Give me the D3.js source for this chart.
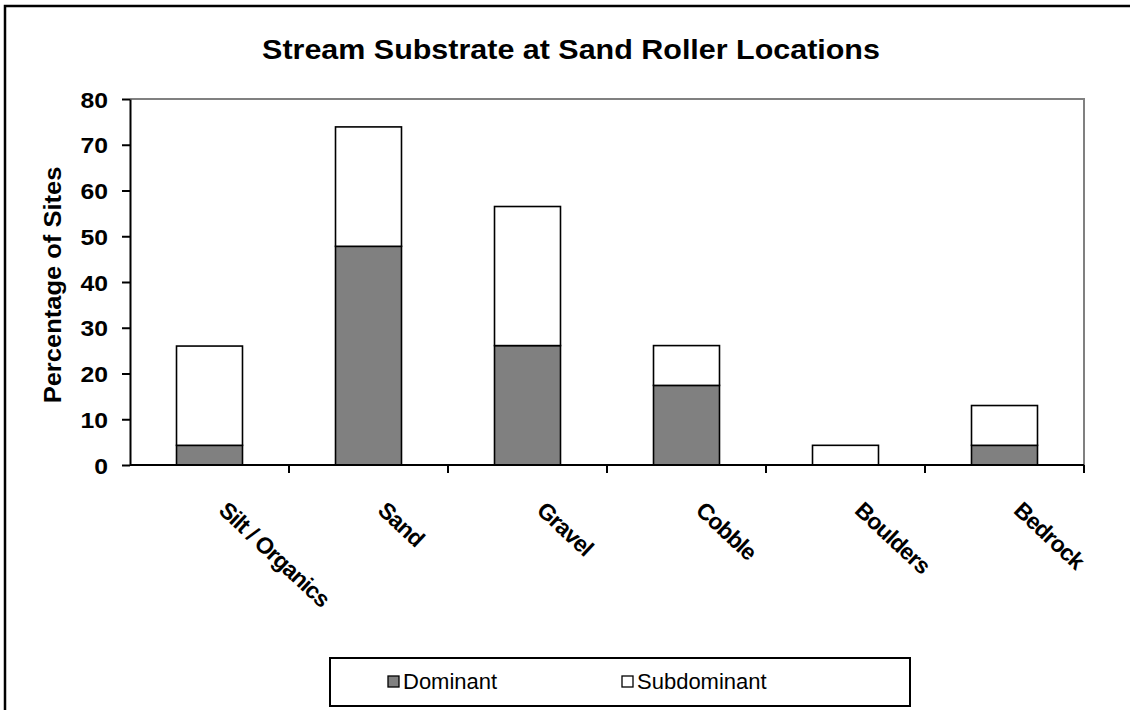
<!DOCTYPE html>
<html>
<head>
<meta charset="utf-8">
<script src="https://cdn.jsdelivr.net/npm/d3@7"></script>
<style>
  body { margin: 0; background: #fff; }
  svg { display: block; font-family: "Liberation Sans", Arial, sans-serif; }
</style>
</head>
<body>
<svg id="chart" width="1130" height="710"></svg>
<script>
// values (percent of sites)
var categories = ["Silt / Organics", "Sand", "Gravel", "Cobble", "Boulders", "Bedrock"];
var dominant = [4.3, 47.8, 26.1, 17.4, 0, 4.3];
var subdominant = [21.7, 26.1, 30.4, 8.7, 4.3, 8.7];
var yTicks = [0, 10, 20, 30, 40, 50, 60, 70, 80];
var seriesNames = ["Dominant", "Subdominant"];
var seriesFill = ["#808080", "#ffffff"];

var svg = d3.select("#chart"),
  margin = {top: 99, right: 46, bottom: 245, left: 130},
  width = +svg.attr("width") - margin.left - margin.right,
  height = +svg.attr("height") - margin.top - margin.bottom;

// stretch factor - the source fonts render wider than liberation
var sx = 1.1;

// outer chart border
svg.append("rect")
  .attr("x", 5).attr("y", 6)
  .attr("width", 1140).attr("height", 720)
  .attr("fill", "none").attr("stroke", "#000").attr("stroke-width", 2.5);

svg.append("g")
  .attr("transform", "translate(571,59) scale(" + sx + ",1)")
  .append("text")
    .attr("text-anchor", "middle")
    .attr("font-size", 27.7)
    .attr("font-weight", "bold")
    .text("Stream Substrate at Sand Roller Locations");

var g = svg.append("g").attr("transform", "translate(" + margin.left + "," + margin.top + ")");

var x = d3.scaleBand()
  .domain(categories)
  .range([0, width])
  .paddingInner(0)
  .paddingOuter(0);

var y = d3.scaleLinear()
  .domain([0, 80])
  .range([height, 0]);

var barW = x.bandwidth() * 0.415;

var data = categories.map(function(c, i) { return {cat: c, Dominant: dominant[i], Subdominant: subdominant[i]}; });
var stacked = d3.stack().keys(seriesNames)(data);

// plot area frame (grey top/right)
g.append("path")
  .attr("d", "M0,0H" + width + "V" + height)
  .attr("fill", "none").attr("stroke", "#808080").attr("stroke-width", 2);

stacked.forEach(function(s, si) {
  g.append("g").selectAll("rect")
    .data(s.filter(function(d) { return d[1] - d[0] > 0; }))
    .enter().append("rect")
      .attr("x", function(d) { return x(d.data.cat) + (x.bandwidth() - barW) / 2; })
      .attr("y", function(d) { return y(d[1]); })
      .attr("width", barW)
      .attr("height", function(d) { return y(d[0]) - y(d[1]); })
      .attr("fill", seriesFill[si])
      .attr("stroke", "#000")
      .attr("stroke-width", 1.6);
});

// y axis
var yAxis = g.append("g")
  .call(d3.axisLeft(y).tickValues(yTicks).tickSize(8).tickSizeOuter(0).tickPadding(14));
yAxis.select(".domain").attr("stroke-width", 2);
yAxis.selectAll(".tick line").attr("stroke-width", 2);
yAxis.selectAll(".tick text")
  .attr("font-size", 22.5)
  .attr("font-weight", "bold")
  .attr("font-family", "Liberation Sans, Arial, sans-serif")
  .attr("fill", "#000")
  .attr("transform", "scale(" + sx + ",1)")
  .attr("x", -22 / sx)
  .attr("dy", "0.36em");

// x axis, ticks on category boundaries
var bounds = d3.range(categories.length + 1).map(function(i) { return i * x.step(); });
var xAxisG = g.append("g").attr("transform", "translate(0," + height + ")");
xAxisG.append("line")
  .attr("x1", 0).attr("x2", width)
  .attr("stroke", "#000").attr("stroke-width", 2);
xAxisG.selectAll("line.tk")
  .data(bounds.slice(1))
  .enter().append("line")
    .attr("class", "tk")
    .attr("x1", function(d) { return d; }).attr("x2", function(d) { return d; })
    .attr("y1", 0).attr("y2", 8)
    .attr("stroke", "#000").attr("stroke-width", 2);

xAxisG.selectAll("text.cat")
  .data(categories)
  .enter().append("text")
    .attr("class", "cat")
    .attr("transform", function(d) { return "translate(" + (x(d) + x.bandwidth() / 2 + 8) + ",47) rotate(43)"; })
    .attr("text-anchor", "start")
    .attr("font-size", 23)
    .attr("font-weight", "bold")
    .attr("letter-spacing", -0.9)
    .text(function(d) { return d; });

// y axis title
svg.append("text")
  .attr("transform", "translate(61,285) rotate(-90) scale(" + sx + ",1)")
  .attr("text-anchor", "middle")
  .attr("font-size", 23.2)
  .attr("font-weight", "bold")
  .text("Percentage of Sites");

// legend
var legend = svg.append("g").attr("transform", "translate(330,658)");
legend.append("rect")
  .attr("width", 580).attr("height", 48)
  .attr("fill", "#fff").attr("stroke", "#000").attr("stroke-width", 2);

var legendX = [58, 292];
var item = legend.selectAll("g.item")
  .data(seriesNames)
  .enter().append("g")
    .attr("class", "item")
    .attr("transform", function(d, i) { return "translate(" + legendX[i] + ",18)"; });
item.append("rect")
  .attr("width", 11).attr("height", 11)
  .attr("fill", function(d, i) { return seriesFill[i]; })
  .attr("stroke", "#000").attr("stroke-width", 1.3);
item.append("text")
  .attr("x", 15).attr("y", 13)
  .attr("font-size", 22)
  .text(function(d) { return d; });
</script>
</body>
</html>
